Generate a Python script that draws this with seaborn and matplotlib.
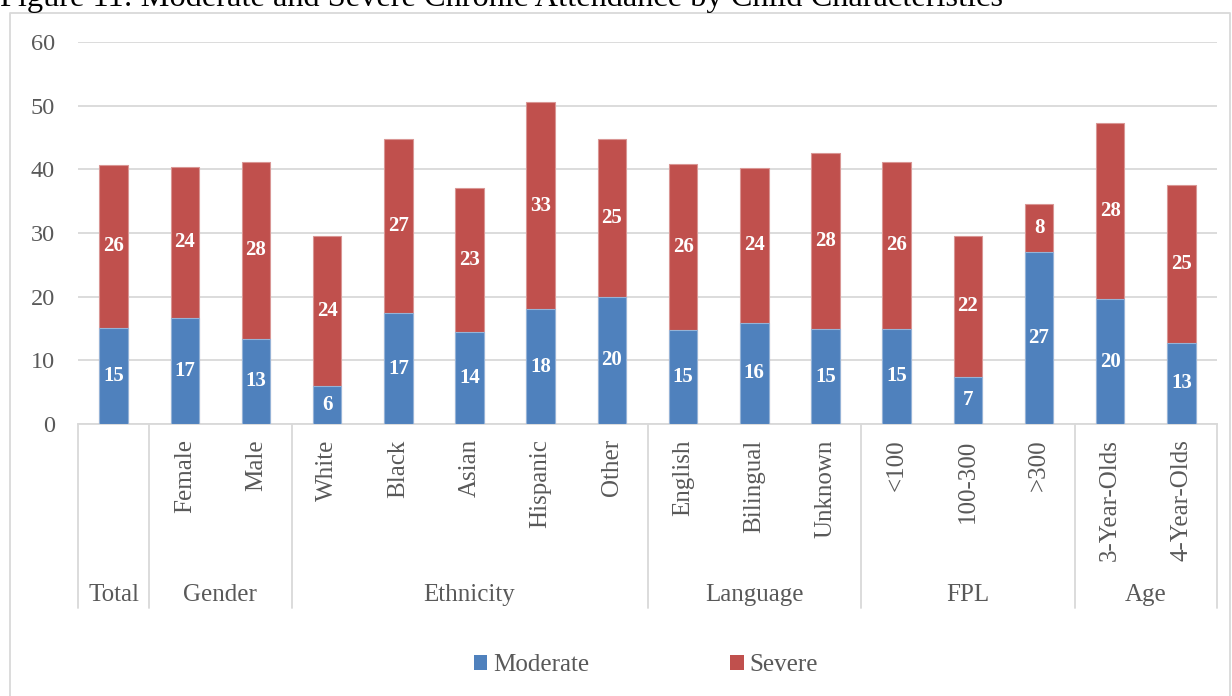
import matplotlib
matplotlib.use("Agg")
import matplotlib.pyplot as plt
from matplotlib.lines import Line2D
from matplotlib.patches import Patch
import matplotlib.transforms as mtransforms
import seaborn as sns
import pandas as pd

# Chronic absence rates (%) by child characteristic
categories = ["Total", "Female", "Male", "White", "Black", "Asian", "Hispanic", "Other",
              "English", "Bilingual", "Unknown", "<100", "100-300", ">300",
              "3-Year-Olds", "4-Year-Olds"]
tick_labels = ["", "Female", "Male", "White", "Black", "Asian", "Hispanic", "Other",
               "English", "Bilingual", "Unknown", "<100", "100-300", ">300",
               "3-Year-Olds", "4-Year-Olds"]
moderate = [15.1, 16.7, 13.4, 5.9, 17.4, 14.4, 18.0, 20.0,
            14.8, 15.9, 14.9, 15.0, 7.4, 27.0, 19.6, 12.8]
severe = [25.6, 23.7, 27.8, 23.7, 27.3, 22.6, 32.6, 24.7,
          26.1, 24.3, 27.6, 26.1, 22.2, 7.6, 27.6, 24.8]
group_names = ["Total", "Gender", "Ethnicity", "Language", "FPL", "Age"]
group_sizes = [1, 2, 5, 3, 3, 2]
series_names = ["Moderate", "Severe"]
y_ticks = [0, 10, 20, 30, 40, 50, 60]
title = "Figure 11: Moderate and Severe Chronic Attendance by Child Characteristics"

BLUE = "#4F81BD"
RED = "#C0504D"
GRID = "#D9D9D9"
TEXT = "#595959"

sns.set_style("white")
plt.rcParams["font.family"] = ["Liberation Serif", "DejaVu Serif"]

df = pd.DataFrame({"category": categories, "moderate": moderate, "severe": severe})
df["total"] = df["moderate"] + df["severe"]

W, H = 1232, 696
fig = plt.figure(figsize=(W / 100, H / 100), dpi=100)
ax = fig.add_axes([78 / W, 1 - 424 / H, (1217 - 78) / W, (424 - 42) / H])

# stacked bars: full height in red, moderate share in blue over it
sns.barplot(data=df, x="category", y="total", color=RED, saturation=1,
            width=0.4, ax=ax, order=categories, zorder=3,
            edgecolor="#D99694", linewidth=0.8)
sns.barplot(data=df, x="category", y="moderate", color=BLUE, saturation=1,
            width=0.4, ax=ax, order=categories, zorder=3,
            edgecolor="#95B3D7", linewidth=0.8)

for i, (m, s) in enumerate(zip(moderate, severe)):
    ax.text(i, m / 2, f"{m:.0f}", ha="center", va="center", color="white",
            fontsize=15, fontweight="bold", zorder=5)
    ax.text(i, m + s / 2, f"{s:.0f}", ha="center", va="center", color="white",
            fontsize=15, fontweight="bold", zorder=5)

ax.set_xlim(-0.5, len(categories) - 0.5)
ax.set_ylim(0, 60)
ax.set_yticks(y_ticks)
ax.set_yticklabels([str(t) for t in y_ticks])
ax.set_xticks(range(len(categories)))
ax.set_xticklabels(tick_labels, rotation=90, ha="center", va="top")
ax.tick_params(axis="y", length=0, pad=16.5, labelsize=17.5, labelcolor=TEXT)
ax.tick_params(axis="x", length=0, pad=11.0, labelsize=18, labelcolor=TEXT)
ax.set_xlabel("")
ax.set_ylabel("")
ax.yaxis.grid(True, color=GRID, linewidth=1.3, zorder=0)
ax.set_axisbelow(True)
for side in ["left", "right", "top"]:
    ax.spines[side].set_visible(False)
ax.spines["bottom"].set_color(GRID)
ax.spines["bottom"].set_linewidth(1.3)

# group separators and group names beneath the category labels
trans = mtransforms.blended_transform_factory(ax.transData, ax.transAxes)
y_bottom = -(608 - 424) / (424 - 42)
y_group = -(595 - 424) / (424 - 42)
edge = -0.5
ax.add_line(Line2D([edge, edge], [0, y_bottom], transform=trans, color=GRID,
                   lw=1.3, clip_on=False))
for name, size in zip(group_names, group_sizes):
    ax.text(edge + size / 2, y_group, name, transform=trans, ha="center",
            va="center", fontsize=18, color=TEXT)
    edge += size
    ax.add_line(Line2D([edge, edge], [0, y_bottom], transform=trans, color=GRID,
                       lw=1.3, clip_on=False))

# legend
handles = [Patch(facecolor=BLUE, edgecolor="none"), Patch(facecolor=RED, edgecolor="none")]
fig.legend(handles, series_names, loc="center", bbox_to_anchor=(646 / W, 1 - 665 / H),
           ncol=2, frameon=False, fontsize=18, handlelength=0.55, handleheight=0.55,
           handletextpad=0.25, columnspacing=5.6, labelcolor=TEXT)

# chart frame
fig.add_artist(Line2D([10 / W, 10 / W, 1230 / W, 1230 / W],
                      [0, 1 - 12.5 / H, 1 - 12.5 / H, 0], transform=fig.transFigure,
                      color=GRID, lw=1.3))

fig.text(0, 1 - 6 / H, title, ha="left", va="baseline", fontsize=23.3,
         family="Liberation Serif", color="black")

fig.savefig("out.png", dpi=100)
